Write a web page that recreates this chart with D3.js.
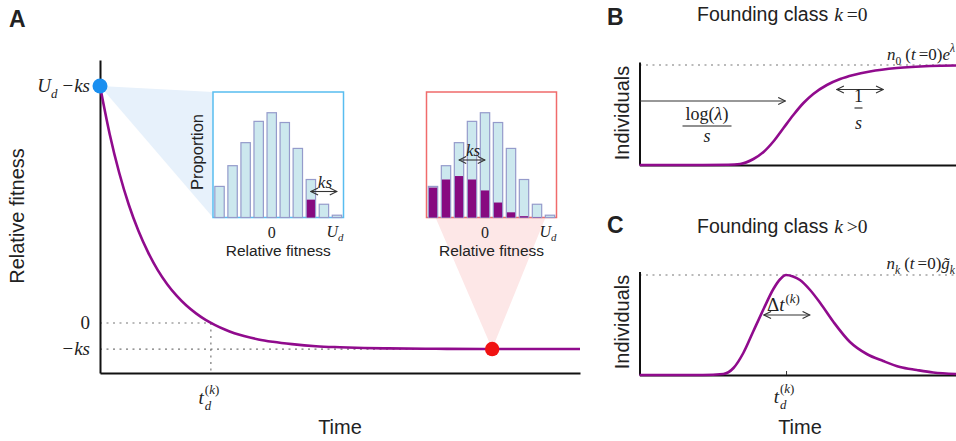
<!DOCTYPE html>
<html>
<head>
<meta charset="utf-8">
<script src="https://cdn.jsdelivr.net/npm/d3@7"></script>
<style>
  html, body { margin: 0; padding: 0; background: #fff; }
  svg { display: block; }
</style>
</head>
<body>
<div id="chart"></div>
<script>
// ---------- DATA ----------
// Panel A: relative fitness of founding class over time (in units of ks)
const timeA = [0, 2, 4, 6, 8, 10, 12, 14, 16, 18, 20, 22, 24, 26, 28, 30, 33, 36, 40, 45, 50, 55, 60, 70, 80, 90, 100];
const fitnessA = [9.10, 7.27, 5.77, 4.54, 3.54, 2.72, 2.04, 1.49, 1.04, 0.67, 0.37, 0.12, -0.08, -0.25, -0.39, -0.50, -0.63, -0.72, -0.81, -0.89, -0.93, -0.96, -0.975, -0.99, -1.0, -1.0, -1.0];
const fitnessStart = 9.1;    // U_d - ks
const fitnessEnd = -1.0;     // -ks
const tD = 23.1;             // t_d^(k)
const tLate = 81.7;          // time of red sampling point

// Inset histograms (proportion per fitness bin)
const bins = [-4, -3, -2, -1, 0, 1, 2, 3, 4, 5];
const propTotal = [0.054, 0.090, 0.130, 0.167, 0.182, 0.165, 0.120, 0.066, 0.023, 0.004];
const propFoundEarly = [0, 0, 0, 0, 0, 0, 0, 0.031, 0, 0];
const propFoundLate = [0.052, 0.066, 0.072, 0.066, 0.047, 0.026, 0.009, 0.0023, 0.0005, 0];
const binZero = 0, binUd = 5, ksBins = 2;

// Panel B: founding class k = 0 (individuals, relative to plateau)
const timeB = [0, 10, 20, 28, 31.8, 36, 39.2, 42.3, 45.5, 48.6, 51.8, 54.9, 59.2, 63.4, 67.6, 72.8, 81.3, 91.8, 100];
const indivB = [0, 0, 0, 0.002, 0.01, 0.06, 0.13, 0.235, 0.37, 0.50, 0.62, 0.71, 0.80, 0.86, 0.90, 0.935, 0.97, 0.99, 0.995];
const arrowLogEnd = 46.1;           // end of log(λ)/s arrow
const oneOverS = [62.3, 77.0];      // 1/s double arrow

// Panel C: founding class k > 0
const timeC = [0, 10, 20, 26.5, 29.7, 32.8, 36.0, 39.2, 42.3, 44.5, 46.3, 48.5, 50.7, 53.9, 57.1, 61.3, 66.5, 71.8, 77.0, 82.3, 87.6, 92.8, 100];
const indivC = [0, 0, 0, 0.01, 0.07, 0.22, 0.44, 0.66, 0.86, 0.96, 1.0, 0.985, 0.95, 0.85, 0.72, 0.53, 0.33, 0.21, 0.14, 0.08, 0.05, 0.025, 0.01];
const tPeakC = 46.3;
const deltaT = [39.3, 53.8];

// ---------- STYLE ----------
const W = 956, H = 441;
const SANS = "'Liberation Sans', Arial, Helvetica, sans-serif";
const SERIF = "'Liberation Serif', 'DejaVu Serif', serif";
const TXT = "#222";
const PURPLE = "#900b8d";
const BARPURPLE = "#870a80";
const DOT = "#777";

const svg = d3.select("#chart").append("svg").attr("width", W).attr("height", H);

const defs = svg.append("defs");
defs.append("marker").attr("id", "arr").attr("viewBox", "0 0 10 10")
  .attr("refX", 9).attr("refY", 5).attr("markerWidth", 9).attr("markerHeight", 9)
  .attr("markerUnits", "userSpaceOnUse").attr("orient", "auto-start-reverse")
  .append("path").attr("d", "M1,1 L9,5 L1,9").attr("fill", "none").attr("stroke", "#333").attr("stroke-width", 1.2);

function mtext(parent, x, y, pieces, anchor = "start", base = 18) {
  const g = parent.append("g");
  let cx = 0;
  pieces.forEach(p => {
    if (typeof p === "number") { cx += p; return; }
    const size = p.size ?? ((p.sub || p.sup) ? base * 0.68 : base);
    const dy = p.dy ?? (p.sub ? base * 0.3 : p.sup ? -base * 0.45 : 0);
    const t = g.append("text").attr("x", cx + (p.dx || 0)).attr("y", dy).text(p.s)
      .attr("font-family", p.sans ? SANS : SERIF).attr("font-size", size)
      .attr("font-style", p.it ? "italic" : "normal").attr("fill", TXT);
    const w = t.node().getComputedTextLength();
    if (!p.hold) cx += w + (p.after || 0);
  });
  const shift = anchor === "end" ? -cx : anchor === "middle" ? -cx / 2 : 0;
  g.attr("transform", `translate(${x + shift},${y})`);
  return g;
}

function label(parent, x, y, s, size, opts = {}) {
  const t = parent.append("text").attr("x", x).attr("y", y).text(s)
    .attr("font-family", SANS).attr("font-size", size).attr("fill", TXT)
    .attr("text-anchor", opts.anchor || "middle");
  if (opts.bold) t.attr("font-weight", "bold");
  if (opts.rotate) t.attr("transform", `rotate(-90,${x},${y})`).attr("dy", "0.35em");
  return t;
}

// superscript "(k)" pieces: roman parens, italic k
function supK(dy, hold) {
  return [{ s: "(", sup: true, dy }, { s: "k", it: true, sup: true, dy }, { s: ")", sup: true, dy }];
}

// ---------- PANEL A ----------
const xA = d3.scaleLinear().domain([0, 100]).range([100, 580]);
const yA = d3.scaleLinear().domain([-1.92, 10.1]).range([373, 60]);
const gA = svg.append("g");

const boxE = { x0: 213, x1: 343.5, y0: 92, y1: 217.5 };
const boxL = { x0: 426.5, x1: 556.5, y0: 92, y1: 217.5 };

// wedges
gA.append("path").attr("fill", "#e7f1fb")
  .attr("d", `M${xA(0)},${yA(fitnessStart)} L${boxE.x0},${boxE.y0} L${boxE.x0},${boxE.y1} Z`);
gA.append("path").attr("fill", "#fde7e7")
  .attr("d", `M${xA(tLate)},${yA(fitnessEnd)} L${boxL.x0 + 9},${boxL.y1} L${boxL.x1 - 11},${boxL.y1} Z`);

// dotted guides
const dots = gA.append("g").attr("stroke", DOT).attr("stroke-width", 1.2).attr("stroke-dasharray", "2,4.5");
dots.append("line").attr("x1", xA(0)).attr("x2", xA(tD)).attr("y1", yA(0)).attr("y2", yA(0));
dots.append("line").attr("x1", xA(0)).attr("x2", xA(100)).attr("y1", yA(fitnessEnd)).attr("y2", yA(fitnessEnd));
dots.append("line").attr("x1", xA(tD)).attr("x2", xA(tD)).attr("y1", yA(0)).attr("y2", yA(-1.92));

// axes
function styleAxis(g) {
  g.select(".domain").attr("stroke", "#111").attr("stroke-width", 2);
}
gA.append("g").attr("transform", `translate(${xA(0)},0)`)
  .call(d3.axisLeft(yA).tickValues([]).tickSizeOuter(0)).call(styleAxis);
gA.append("g").attr("transform", `translate(0,${yA(-1.92)})`)
  .call(d3.axisBottom(xA).tickValues([]).tickSizeOuter(0)).call(styleAxis);

// curve
const lineA = d3.line().x((d, i) => xA(timeA[i])).y(d => yA(d)).curve(d3.curveMonotoneX);
gA.append("path").datum(fitnessA).attr("d", lineA).attr("fill", "none")
  .attr("stroke", PURPLE).attr("stroke-width", 2.6);

gA.append("circle").attr("cx", xA(0)).attr("cy", yA(fitnessStart)).attr("r", 7.5).attr("fill", "#1a8ff0");
gA.append("circle").attr("cx", xA(tLate)).attr("cy", yA(fitnessEnd)).attr("r", 7.2).attr("fill", "#f01212");

// tick labels
mtext(gA, 90, yA(fitnessStart) + 6, [{ s: "U", it: true }, { s: "d", it: true, sub: true, after: 5 }, { s: "−", after: 1 }, { s: "ks", it: true }], "end", 19);
mtext(gA, 90, yA(0) + 6, [{ s: "0" }], "end", 19);
mtext(gA, 90, yA(fitnessEnd) + 6, [{ s: "−", after: 1 }, { s: "ks", it: true }], "end", 19);
mtext(gA, xA(tD) - 2, 404, [{ s: "t", it: true, after: 1 }, { s: "d", it: true, sub: true, hold: true, dy: 6 }, ...supK(-10)], "middle", 19);

label(gA, 340, 434, "Time", 20);
label(gA, 17, 216, "Relative fitness", 20, { rotate: true });
label(gA, 9, 27, "A", 23, { bold: true, anchor: "start" });

// ---------- INSETS ----------
function inset(box, found, color, ksFrom) {
  const g = svg.append("g");
  const x = d3.scaleBand().domain(bins).range([box.x0, box.x1]).paddingInner(0.28).paddingOuter(0.14);
  const y = d3.scaleLinear().domain([0, 0.218]).range([box.y1, box.y0]);
  g.append("rect").attr("x", box.x0).attr("y", box.y0).attr("width", box.x1 - box.x0).attr("height", box.y1 - box.y0)
    .attr("fill", "#fff").attr("stroke", color).attr("stroke-width", 1.5);
  g.selectAll(".b").data(propTotal).join("rect")
    .attr("x", (d, i) => x(bins[i])).attr("width", x.bandwidth())
    .attr("y", d => y(d)).attr("height", d => y(0) - y(d))
    .attr("fill", "#cce8ee").attr("stroke", "#959bcb").attr("stroke-width", 1.2);
  g.selectAll(".p").data(found).join("rect")
    .attr("x", (d, i) => x(bins[i]) + 0.6).attr("width", x.bandwidth() - 1.2)
    .attr("y", d => y(d)).attr("height", d => y(0) - y(d))
    .attr("fill", BARPURPLE);
  const c = b => x(b) + x.bandwidth() / 2;
  mtext(g, c(binZero), 238, [{ s: "0" }], "middle", 16);
  mtext(g, c(binUd) - 2, 237, [{ s: "U", it: true }, { s: "d", it: true, sub: true, dy: 4 }], "middle", 16);
  label(g, (box.x0 + box.x1) / 2 + 0, 256, "Relative fitness", 15.5);
  const ay = ksFrom.y;
  g.append("line").attr("x1", c(ksFrom.b)).attr("x2", c(ksFrom.b + ksBins)).attr("y1", ay).attr("y2", ay)
    .attr("stroke", "#333").attr("stroke-width", 1.1)
    .attr("marker-start", "url(#arr)").attr("marker-end", "url(#arr)");
  mtext(g, (c(ksFrom.b) + c(ksFrom.b + ksBins)) / 2 + 1, ay - 4, [{ s: "ks", it: true }], "middle", 17);
  return g;
}
const gE = inset(boxE, propFoundEarly, "#58bdf0", { b: 3, y: 191.5 });
label(gE, 197, 152, "Proportion", 16.5, { rotate: true });
inset(boxL, propFoundLate, "#f06b6b", { b: -2, y: 160 });

// ---------- PANEL B ----------
const xB = d3.scaleLinear().domain([0, 100]).range([639.5, 956]);
const yB = d3.scaleLinear().domain([0, 1]).range([165, 65]);
const gB = svg.append("g");
gB.append("line").attr("x1", xB(0)).attr("x2", xB(100)).attr("y1", yB(1)).attr("y2", yB(1))
  .attr("stroke", DOT).attr("stroke-width", 1.2).attr("stroke-dasharray", "2,4.5");
gB.append("g").attr("transform", `translate(${xB(0)},0)`)
  .call(d3.axisLeft(yB.copy().domain([0, 1.03]).range([165, 62])).tickValues([]).tickSizeOuter(0)).call(styleAxis);
gB.append("g").attr("transform", `translate(0,${yB(0)})`)
  .call(d3.axisBottom(xB).tickValues([]).tickSizeOuter(0)).call(styleAxis);
const lineB = d3.line().x((d, i) => xB(timeB[i])).y(d => yB(d)).curve(d3.curveMonotoneX);
gB.append("path").datum(indivB).attr("d", lineB).attr("fill", "none").attr("stroke", PURPLE).attr("stroke-width", 2.6);

gB.append("line").attr("x1", xB(0)).attr("x2", xB(arrowLogEnd)).attr("y1", 101).attr("y2", 101)
  .attr("stroke", "#333").attr("stroke-width", 1.1).attr("marker-end", "url(#arr)");
gB.append("line").attr("x1", xB(oneOverS[0])).attr("x2", xB(oneOverS[1])).attr("y1", 89.5).attr("y2", 89.5)
  .attr("stroke", "#333").attr("stroke-width", 1.1).attr("marker-start", "url(#arr)").attr("marker-end", "url(#arr)");

// fractions
function frac(parent, cx, barY, num, den, size, barW) {
  mtext(parent, cx, barY - 6, num, "middle", size);
  parent.append("line").attr("x1", cx - barW / 2).attr("x2", cx + barW / 2).attr("y1", barY).attr("y2", barY)
    .attr("stroke", TXT).attr("stroke-width", 1.1);
  mtext(parent, cx, barY + 16, den, "middle", size);
}
frac(gB, 707, 126, [{ s: "log(" }, { s: "λ", it: true }, { s: ")" }], [{ s: "s", it: true }], 18, 49);
frac(gB, 858.5, 108, [{ s: "1" }], [{ s: "s", it: true, dy: 5 }], 18, 8);

mtext(gB, 955, 60, [{ s: "n", it: true }, { s: "0", sub: true, after: 4 }, { s: "(" }, { s: "t", it: true, after: 3 }, { s: "=" }, { s: "0)" }, { s: "e", it: true }, { s: "λ", it: true, sup: true }], "end", 17);

label(gB, 622, 113, "Individuals", 20, { rotate: true });
label(gB, 607, 25, "B", 23, { bold: true, anchor: "start" });
mtext(gB, 697, 21, [{ s: "Founding class", sans: true, after: 6 }, { s: "k", it: true, after: 4 }, { s: "=" }, { s: "0" }], "start", 19.5);

// ---------- PANEL C ----------
const xC = d3.scaleLinear().domain([0, 100]).range([639.5, 956]);
const yC = d3.scaleLinear().domain([0, 1]).range([375, 275]);
const gC = svg.append("g");
gC.append("line").attr("x1", xC(0)).attr("x2", xC(100)).attr("y1", yC(1)).attr("y2", yC(1))
  .attr("stroke", DOT).attr("stroke-width", 1.2).attr("stroke-dasharray", "2,4.5");
gC.append("g").attr("transform", `translate(${xC(0)},0)`)
  .call(d3.axisLeft(yC.copy().domain([0, 1.035]).range([375, 271.5])).tickValues([]).tickSizeOuter(0)).call(styleAxis);
const axC = gC.append("g").attr("transform", `translate(0,${yC(0)})`)
  .call(d3.axisBottom(xC).tickValues([tPeakC]).tickSize(-4).tickFormat("").tickSizeOuter(0)).call(styleAxis);
axC.selectAll(".tick line").attr("stroke", "#333").attr("stroke-width", 1);
const lineC = d3.line().x((d, i) => xC(timeC[i])).y(d => yC(d)).curve(d3.curveMonotoneX);
gC.append("path").datum(indivC).attr("d", lineC).attr("fill", "none").attr("stroke", PURPLE).attr("stroke-width", 2.6);

gC.append("line").attr("x1", xC(deltaT[0])).attr("x2", xC(deltaT[1])).attr("y1", 315).attr("y2", 315)
  .attr("stroke", "#333").attr("stroke-width", 1.1).attr("marker-start", "url(#arr)").attr("marker-end", "url(#arr)");
mtext(gC, 767, 311, [{ s: "Δ" }, { s: "t", it: true, after: 1 }, ...supK(-8)], "start", 19);

mtext(gC, 955, 269, [{ s: "n", it: true }, { s: "k", it: true, sub: true, after: 4 }, { s: "(" }, { s: "t", it: true, after: 3 }, { s: "=" }, { s: "0)" }, { s: "g\u0303", it: true }, { s: "k", it: true, sub: true }], "end", 17);

mtext(gC, xC(tPeakC) - 2, 403, [{ s: "t", it: true, after: 1 }, { s: "d", it: true, sub: true, hold: true, dy: 6 }, ...supK(-10)], "middle", 19);
label(gC, 800, 434, "Time", 20);
label(gC, 622, 322, "Individuals", 20, { rotate: true });
label(gC, 607, 233, "C", 23, { bold: true, anchor: "start" });
mtext(gC, 697, 233, [{ s: "Founding class", sans: true, after: 6 }, { s: "k", it: true, after: 4 }, { s: ">" }, { s: "0" }], "start", 19.5);
</script>
</body>
</html>
